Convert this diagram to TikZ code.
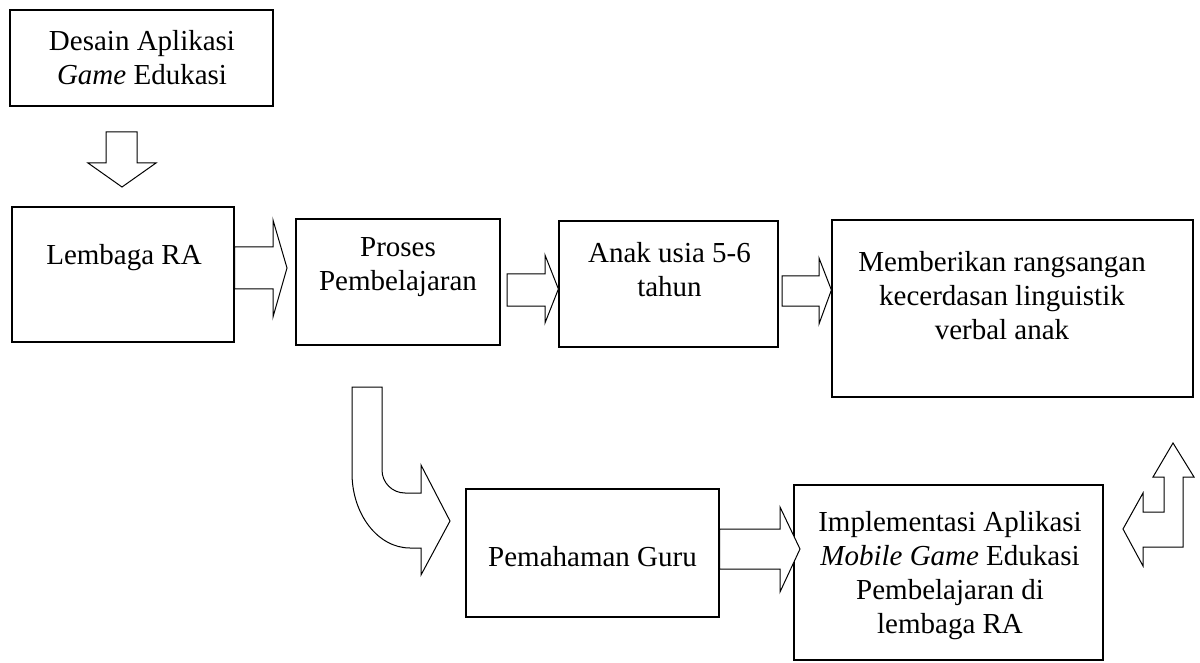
\documentclass[tikz,border=0pt]{standalone}
\usepackage{fontspec}
\setmainfont{Liberation Serif}
\begin{document}
\begin{tikzpicture}[x=1pt,y=-1pt,
  box/.style={draw=black,line width=1.2pt,rectangle,inner sep=0pt},
  boxtext/.style={align=center,inner sep=0pt,font=\fontsize{29}{34}\selectfont},
  blockarrow/.style={draw=black,line width=1pt,fill=white,line join=miter}]
\useasboundingbox (0,0) rectangle (1200,663);

% boxes
\node[box,minimum width=263pt,minimum height=96pt]  (desain) at (141.5,58) {};
\node[box,minimum width=222pt,minimum height=135pt] (lembaga) at (123,274.5) {};
\node[box,minimum width=204pt,minimum height=126pt] (proses) at (398,282) {};
\node[box,minimum width=219pt,minimum height=126pt] (anak) at (668.5,284) {};
\node[box,minimum width=361pt,minimum height=177pt] (beri) at (1012.5,308.5) {};
\node[box,minimum width=253pt,minimum height=128pt] (guru) at (592.5,553) {};
\node[box,minimum width=309pt,minimum height=175pt] (impl) at (948.5,572.5) {};

% texts
\node[boxtext] (tdesain) at (142,58) {Desain Aplikasi\\\textit{Game} Edukasi};
\node[boxtext] (tlembaga) at (124,258) {Lembaga RA};
\node[boxtext] (tproses) at (398,267) {Proses\\Pembelajaran};
\node[boxtext] (tanak) at (669.5,270) {Anak usia 5-6\\tahun};
\node[boxtext] (tberi) at (1002,295.5) {Memberikan rangsangan\\kecerdasan linguistik\\verbal anak};
\node[boxtext] (tguru) at (592.5,557) {Pemahaman Guru};
\node[boxtext] (timpl) at (950,576) {Implementasi Aplikasi\\\textit{Mobile Game} Edukasi\\Pembelajaran di\\lembaga RA};

% block arrows
\draw[blockarrow] (106,132) -- (137,132) -- (137,163) -- (156,163) -- (122,187)
  -- (88,163) -- (106,163) -- cycle;
\draw[blockarrow] (lembaga.east |- 0,247) -- (273,247) -- (273,220) -- (287,268)
  -- (273,317) -- (273,289) -- (lembaga.east |- 0,289) -- cycle;
\draw[blockarrow] (507,274) -- (545,274) -- (545,255) -- (anak.west |- 0,289)
  -- (545,323) -- (545,306) -- (507,306) -- cycle;
\draw[blockarrow] (782,276) -- (819,276) -- (819,258) -- (beri.west |- 0,290)
  -- (819,324) -- (819,306) -- (782,306) -- cycle;
\draw[blockarrow] (guru.east |- 0,529) -- (780,529) -- (780,507) -- (800,549)
  -- (780,592) -- (780,569) -- (guru.east |- 0,569) -- cycle;

% bent arrow from the process box down to the teacher box
\draw[blockarrow] (352,387) -- (382,387) -- (382,470)
  .. controls (382,482.7) and (392.3,493) .. (405,493)
  -- (421,493) -- (421,465) -- (450,521) -- (421,575) -- (421,548) -- (410,548)
  .. controls (378,548) and (352,514.4) .. (352,473) -- cycle;

% two-way bent arrow beside the implementation box
\draw[blockarrow] (1123,529) -- (1143,493) -- (1143,512) -- (1164,512) -- (1164,477)
  -- (1153,477) -- (1173,443) -- (1194,477) -- (1183,477) -- (1183,547)
  -- (1143,547) -- (1143,566) -- cycle;
\end{tikzpicture}
\end{document}
